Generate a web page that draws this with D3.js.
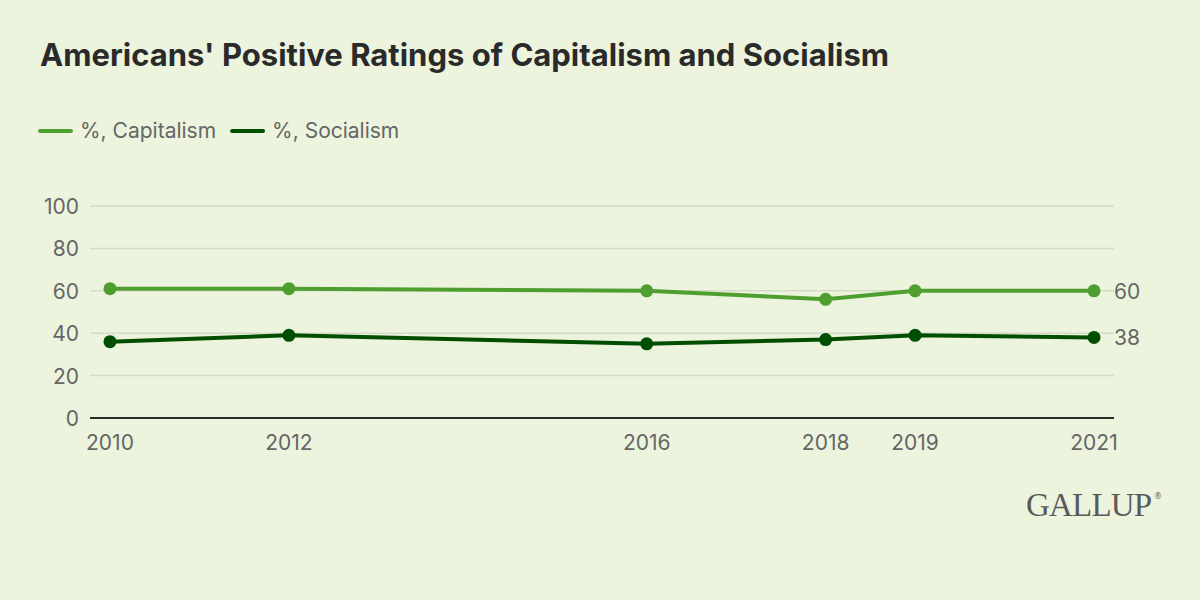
<!DOCTYPE html>
<html><head><meta charset="utf-8">
<script src="https://cdn.jsdelivr.net/npm/d3@7"></script>
<style>
html,body{margin:0;padding:0;background:#ECF4DE;}
svg{display:block;font-family:Inter,"Noto Sans",sans-serif;}
</style></head>
<body>
<svg id="chart" width="1200" height="600"></svg>
<script>
const years = [2010, 2012, 2016, 2018, 2019, 2021];
const capitalism = [61, 61, 60, 56, 60, 60];
const socialism = [36, 39, 35, 37, 39, 38];
const yTicks = [0, 20, 40, 60, 80, 100];
const seriesNames = ["%, Capitalism", "%, Socialism"];
const colors = ["#4E9F30", "#004F00"];

const svg = d3.select("#chart");
svg.append("rect").attr("width",1200).attr("height",600).attr("fill","#ECF4DE");

svg.append("text").attr("x",40).attr("y",66).attr("font-size",31).attr("font-weight",700)
  .attr("fill","#2a2a2a").text("Americans' Positive Ratings of Capitalism and Socialism");

// legend
let lx = 40;
seriesNames.forEach((n,i)=>{
  const g = svg.append("g");
  g.append("line").attr("x1",lx).attr("x2",lx+31).attr("y1",131).attr("y2",131)
    .attr("stroke",colors[i]).attr("stroke-width",4).attr("stroke-linecap","round");
  const t = g.append("text").attr("x",lx+40).attr("y",138).attr("font-size",21).attr("fill","#666").text(n);
  lx += 40 + t.node().getComputedTextLength() + 16;
});

const x = d3.scaleLinear().domain([2010,2021]).range([110,1094]);
const y = d3.scaleLinear().domain([0,100]).range([418,206]);
const plotL = 90, plotR = 1114;

// gridlines
svg.append("g").selectAll("line").data(yTicks.filter(d=>d>0)).join("line")
  .attr("x1",plotL).attr("x2",plotR).attr("y1",d=>y(d)).attr("y2",d=>y(d))
  .attr("stroke","#D3DCC6").attr("stroke-width",1.5);

// y labels
svg.append("g").selectAll("text").data(yTicks).join("text")
  .attr("x",79).attr("y",d=>y(d)+8).attr("text-anchor","end")
  .attr("font-size",21).attr("fill","#666").text(d=>d);

// x axis
svg.append("line").attr("x1",plotL).attr("x2",plotR).attr("y1",418).attr("y2",418)
  .attr("stroke","#2b2b2b").attr("stroke-width",2);
svg.append("g").selectAll("text").data(years).join("text")
  .attr("x",d=>x(d)).attr("y",450).attr("text-anchor","middle")
  .attr("font-size",21).attr("fill","#666").text(d=>d);

const line = d3.line().x((d,i)=>x(years[i])).y(d=>y(d));
[capitalism, socialism].forEach((s,i)=>{
  svg.append("path").datum(s).attr("d",line).attr("fill","none")
    .attr("stroke",colors[i]).attr("stroke-width",4).attr("stroke-linejoin","round");
  svg.append("g").selectAll("circle").data(s).join("circle")
    .attr("cx",(d,j)=>x(years[j])).attr("cy",d=>y(d)).attr("r",6.5).attr("fill",colors[i]);
  svg.append("text").attr("x",x(years[years.length-1])+20).attr("y",y(s[s.length-1])+8)
    .attr("font-size",21).attr("fill","#666").text(s[s.length-1]);
});

// logo
svg.append("text").attr("x",1026).attr("y",516).attr("font-family","'Liberation Serif','DejaVu Serif',serif")
  .attr("font-size",33).attr("fill","#5a5a5a").attr("letter-spacing",-0.8).text("GALLUP");
svg.append("text").attr("x",1154).attr("y",499).attr("font-family","'DejaVu Sans',sans-serif")
  .attr("font-size",8).attr("fill","#5a5a5a").text("®");
</script>
</body></html>
